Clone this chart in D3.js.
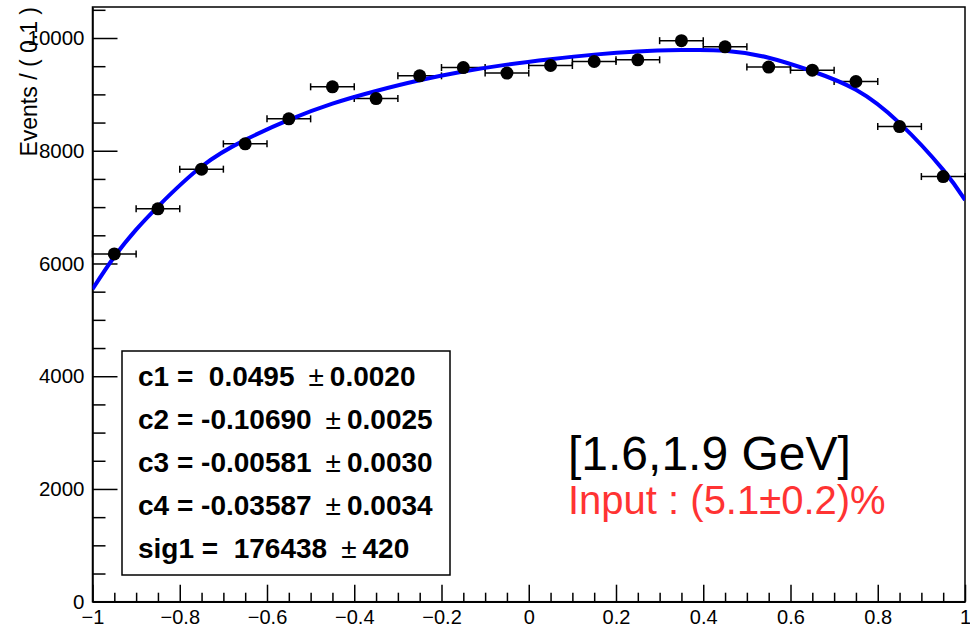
<!DOCTYPE html>
<html><head><meta charset="utf-8">
<script src="https://cdn.jsdelivr.net/npm/d3@7"></script>
<style>
body{margin:0;background:#fff;}
svg{display:block;font-family:"Liberation Sans",Arial,Helvetica,sans-serif;}
</style>
</head><body>
<svg id="chart" width="970" height="629"></svg>
<script>
// ---- data ----
const binCenters = [-0.95,-0.85,-0.75,-0.65,-0.55,-0.45,-0.35,-0.25,-0.15,-0.05,0.05,0.15,0.25,0.35,0.45,0.55,0.65,0.75,0.85,0.95];
const counts = [6170,6969,7673,8122,8566,9134,8926,9329,9476,9377,9512,9583,9613,9953,9844,9484,9430,9228,8429,7542];
const binHalfWidth = 0.05;
const fitCurveX = [-1,-0.95,-0.9,-0.85,-0.75,-0.65,-0.55,-0.45,-0.35,-0.25,-0.15,-0.05,0.05,0.15,0.25,0.35,0.45,0.55,0.65,0.75,0.85,0.95,1];
const fitCurveY = [5544,6120,6600,7010,7720,8193,8547,8835,9060,9250,9405,9528,9625,9705,9760,9785,9775,9650,9410,9081,8490,7661,7125];
const xMajorTicks = [-1,-0.8,-0.6,-0.4,-0.2,0,0.2,0.4,0.6,0.8,1];
const yMajorTicks = [0,2000,4000,6000,8000,10000];
const xDomain = [-1,1];
const yDomain = [0,10550];
const fitNames = ["c1","c2","c3","c4","sig1"];
const fitValues = [" 0.0495","-0.10690","-0.00581","-0.03587"," 176438"];
const fitErrors = ["0.0020","0.0025","0.0030","0.0034","420"];
const yTitle = "Events / ( 0.1 )";
const rangeLabel = "[1.6,1.9 GeV]";
const inputLabel = "Input : (5.1\u00b10.2)%";

// ---- layout ----
const svg = d3.select("#chart");
const L = 92.5, R = 965, T = 7, B = 601.7;
const x = d3.scaleLinear().domain(xDomain).range([L, R]);
const y = d3.scaleLinear().domain(yDomain).range([B, T]);

svg.append("rect").attr("width",970).attr("height",629).attr("fill","#fff");

// minor ticks
const xMinor = d3.range(-1, 1.0001, 0.05).filter(v => !xMajorTicks.some(m => Math.abs(m - v) < 1e-6));
const yMinor = d3.range(0, 10550, 500).filter(v => v % 2000 !== 0);

const gx = svg.append("g").attr("transform", `translate(0,${B})`);
gx.call(d3.axisBottom(x).tickValues(xMajorTicks).tickSizeInner(-17).tickSizeOuter(0).tickPadding(8).tickFormat(d3.format("~g")));
const gxm = svg.append("g").attr("transform", `translate(0,${B})`);
gxm.call(d3.axisBottom(x).tickValues(xMinor).tickSizeInner(-9).tickSizeOuter(0).tickFormat(""));
gxm.select(".domain").remove();

const gy = svg.append("g").attr("transform", `translate(${L},0)`);
gy.call(d3.axisLeft(y).tickValues(yMajorTicks).tickSizeInner(-25).tickSizeOuter(0).tickPadding(8).tickFormat(d3.format("d")));
const gym = svg.append("g").attr("transform", `translate(${L},0)`);
gym.call(d3.axisLeft(y).tickValues(yMinor).tickSizeInner(-13).tickSizeOuter(0).tickFormat(""));
gym.select(".domain").remove();

svg.selectAll(".tick line").attr("stroke","#000").attr("stroke-width",1.5);
svg.selectAll(".domain").attr("stroke","#000").attr("stroke-width",1.5);
gx.selectAll("text").attr("font-size",20).attr("fill","#000").attr("font-family","Liberation Sans, Arial, sans-serif");
gy.selectAll("text").attr("font-size",20.5).attr("fill","#000").attr("font-family","Liberation Sans, Arial, sans-serif");

// frame
svg.append("rect").attr("x",L).attr("y",T).attr("width",R-L).attr("height",B-T)
  .attr("fill","none").attr("stroke","#000").attr("stroke-width",1.5);

// y-axis title
svg.append("text").attr("transform",`translate(37,${T}) rotate(-90)`)
  .attr("text-anchor","end").attr("font-size",23).attr("fill","#000").text(yTitle);

// clip
svg.append("clipPath").attr("id","clip").append("rect").attr("x",L).attr("y",T).attr("width",R-L).attr("height",B-T);

// error bars (horizontal, bin width)
const pts = binCenters.map((c,i)=>({x:c,y:counts[i]}));
const eb = svg.append("g").attr("stroke","#000").attr("stroke-width",1.5);
pts.forEach(p=>{
  const x0 = x(p.x-binHalfWidth), x1 = x(p.x+binHalfWidth), yy = y(p.y);
  eb.append("line").attr("x1",x0).attr("x2",x1).attr("y1",yy).attr("y2",yy);
  eb.append("line").attr("x1",x0).attr("x2",x0).attr("y1",yy-3.5).attr("y2",yy+3.5);
  eb.append("line").attr("x1",x1).attr("x2",x1).attr("y1",yy-3.5).attr("y2",yy+3.5);
});

// fit curve
const curveData = fitCurveX.map((v,i)=>[v,fitCurveY[i]]);
svg.append("path").attr("clip-path","url(#clip)")
  .attr("d", d3.line().x(d=>x(d[0])).y(d=>y(d[1])).curve(d3.curveNatural)(curveData))
  .attr("fill","none").attr("stroke","#0000ff").attr("stroke-width",4);

// markers
svg.append("g").selectAll("circle").data(pts).join("circle")
  .attr("cx",d=>x(d.x)).attr("cy",d=>y(d.y)).attr("r",6.5).attr("fill","#000");

// fit parameter box
svg.append("rect").attr("x",122).attr("y",351).attr("width",328).attr("height",224)
  .attr("fill","#fff").attr("stroke","#000").attr("stroke-width",1.5);
fitNames.forEach((n,i)=>{
  const t = svg.append("text").attr("x",138).attr("y",386+i*43).attr("font-size",28)
    .attr("font-weight","bold").attr("fill","#000").style("white-space","pre");
  t.append("tspan").text(`${n} = ${fitValues[i]}`);
  t.append("tspan").attr("font-weight","normal").attr("dx",14).text("\u00b1");
  t.append("tspan").text(`${fitErrors[i]}`).attr("dx",6);
});

// annotations
svg.append("text").attr("x",568).attr("y",470).attr("font-size",48).attr("fill","#000").text(rangeLabel);
svg.append("text").attr("x",568).attr("y",514).attr("font-size",40).attr("fill","#ff3333").text(inputLabel);
</script>
</body></html>
